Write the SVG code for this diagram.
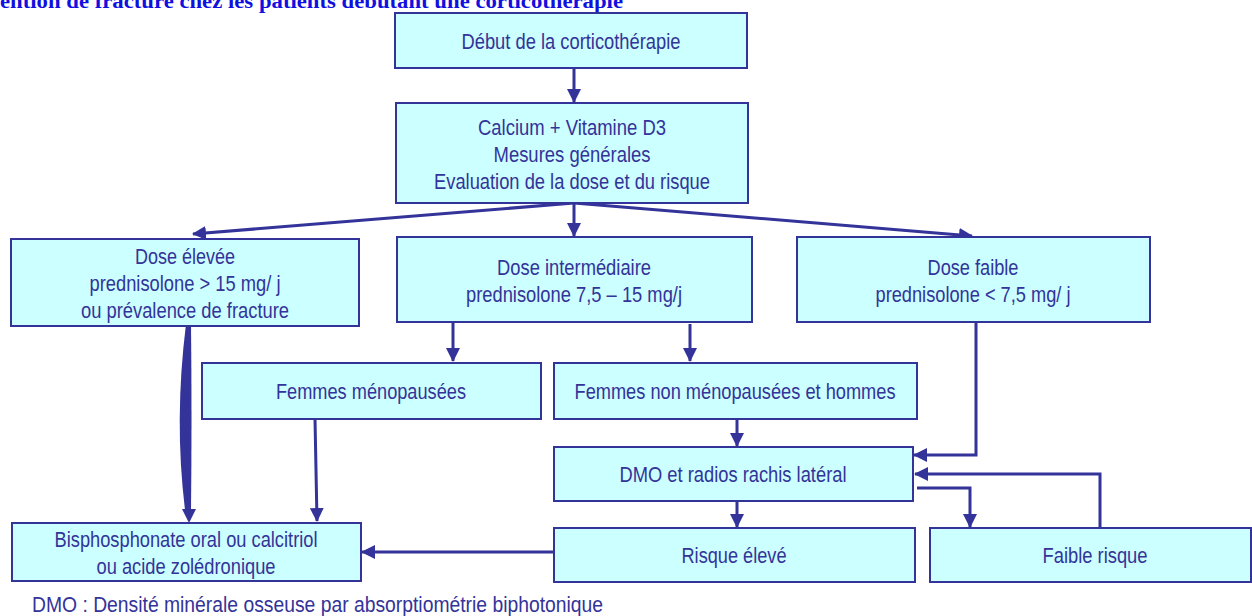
<svg xmlns="http://www.w3.org/2000/svg" width="1252" height="616" viewBox="0 0 1252 616">
<style>
.box{fill:#ccffff;stroke:#333399;stroke-width:2}
.t{font-family:"Liberation Sans Narrow","Arial Narrow","Liberation Sans",sans-serif;font-size:22px;fill:#333399;text-anchor:middle}
.c{fill:none;stroke:#333399;stroke-width:3}
.title{font-family:"Liberation Serif","DejaVu Serif",serif;font-weight:bold;font-size:20px;fill:#1010e0}
</style>
<defs>
<marker id="ah" markerUnits="userSpaceOnUse" markerWidth="14" markerHeight="14" viewBox="0 0 14 14" refX="13" refY="7" orient="auto">
<path d="M0,0 L14,7 L0,14 Z" fill="#333399"/>
</marker>
</defs>
<rect width="1252" height="616" fill="#ffffff"/>
<text class="title" x="0" y="8" textLength="623" lengthAdjust="spacingAndGlyphs">ention de fracture chez les patients débutant une corticothérapie</text>

<g id="connectors">
<path class="c" d="M574,68 V102" marker-end="url(#ah)"/>
<path class="c" d="M574,203 L193,234" marker-end="url(#ah)"/>
<path class="c" d="M574,203 V236" marker-end="url(#ah)"/>
<path class="c" d="M574,203 L972,236" marker-end="url(#ah)"/>
<path d="M186,324 L191,324 Q192,420 191,510 L185,510 Q174,420 186,324 Z" fill="#333399"/>
<path d="M182,509 L196,509 L189,523 Z" fill="#333399"/>
<path class="c" d="M453,322 V361" marker-end="url(#ah)"/>
<path class="c" d="M690,324 V361" marker-end="url(#ah)"/>
<path class="c" d="M315,419 L317,521" marker-end="url(#ah)"/>
<path class="c" d="M737,419 V446" marker-end="url(#ah)"/>
<path class="c" d="M976,322 V455 H914" marker-end="url(#ah)"/>
<path class="c" d="M1100,528 V474 H915" marker-end="url(#ah)"/>
<path class="c" d="M917,488 H970 V527" marker-end="url(#ah)"/>
<path class="c" d="M737,501 V527" marker-end="url(#ah)"/>
<path class="c" d="M554,552 H362" marker-end="url(#ah)"/>
</g>

<g id="n-debut"><rect class="box" x="395" y="13" width="352" height="55"/>
<text class="t" x="571" y="49" textLength="219" lengthAdjust="spacingAndGlyphs">Début de la corticothérapie</text></g>

<g id="n-calcium"><rect class="box" x="396" y="103" width="352" height="100"/>
<text class="t" x="572" y="135" textLength="188" lengthAdjust="spacingAndGlyphs">Calcium + Vitamine D3</text>
<text class="t" x="572" y="162" textLength="157" lengthAdjust="spacingAndGlyphs">Mesures générales</text>
<text class="t" x="572" y="189" textLength="276" lengthAdjust="spacingAndGlyphs">Evaluation de la dose et du risque</text></g>

<g id="n-elevee"><rect class="box" x="11" y="239" width="348" height="87"/>
<text class="t" x="185" y="264" textLength="100" lengthAdjust="spacingAndGlyphs">Dose élevée</text>
<text class="t" x="185" y="291" textLength="191" lengthAdjust="spacingAndGlyphs">prednisolone &gt; 15 mg/ j</text>
<text class="t" x="185" y="318" textLength="208" lengthAdjust="spacingAndGlyphs">ou prévalence de fracture</text></g>

<g id="n-inter"><rect class="box" x="397" y="237" width="355" height="85"/>
<text class="t" x="574" y="275" textLength="154" lengthAdjust="spacingAndGlyphs">Dose intermédiaire</text>
<text class="t" x="574" y="302" textLength="216" lengthAdjust="spacingAndGlyphs">prednisolone 7,5 – 15 mg/j</text></g>

<g id="n-faible"><rect class="box" x="797" y="237" width="353" height="85"/>
<text class="t" x="973" y="275" textLength="91" lengthAdjust="spacingAndGlyphs">Dose faible</text>
<text class="t" x="973" y="302" textLength="195" lengthAdjust="spacingAndGlyphs">prednisolone &lt; 7,5 mg/ j</text></g>

<g id="n-femmes"><rect class="box" x="202" y="363" width="339" height="56"/>
<text class="t" x="371" y="399" textLength="190" lengthAdjust="spacingAndGlyphs">Femmes ménopausées</text></g>

<g id="n-nonmeno"><rect class="box" x="554" y="363" width="363" height="56"/>
<text class="t" x="735" y="399" textLength="321" lengthAdjust="spacingAndGlyphs">Femmes non ménopausées et hommes</text></g>

<g id="n-dmo"><rect class="box" x="554" y="447" width="359" height="54"/>
<text class="t" x="733" y="482" textLength="227" lengthAdjust="spacingAndGlyphs">DMO et radios rachis latéral</text></g>

<g id="n-bisph"><rect class="box" x="12" y="523" width="349" height="58"/>
<text class="t" x="186" y="547" textLength="263" lengthAdjust="spacingAndGlyphs">Bisphosphonate oral ou calcitriol</text>
<text class="t" x="186" y="574" textLength="179" lengthAdjust="spacingAndGlyphs">ou acide zolédronique</text></g>

<g id="n-risque"><rect class="box" x="554" y="528" width="361" height="54"/>
<text class="t" x="734" y="563" textLength="105" lengthAdjust="spacingAndGlyphs">Risque élevé</text></g>

<g id="n-faiblerisque"><rect class="box" x="930" y="528" width="321" height="54"/>
<text class="t" x="1095" y="563" textLength="105" lengthAdjust="spacingAndGlyphs">Faible risque</text></g>

<text class="t" x="32" y="612" style="text-anchor:start" textLength="571" lengthAdjust="spacingAndGlyphs">DMO : Densité minérale osseuse par absorptiométrie biphotonique</text>
</svg>
